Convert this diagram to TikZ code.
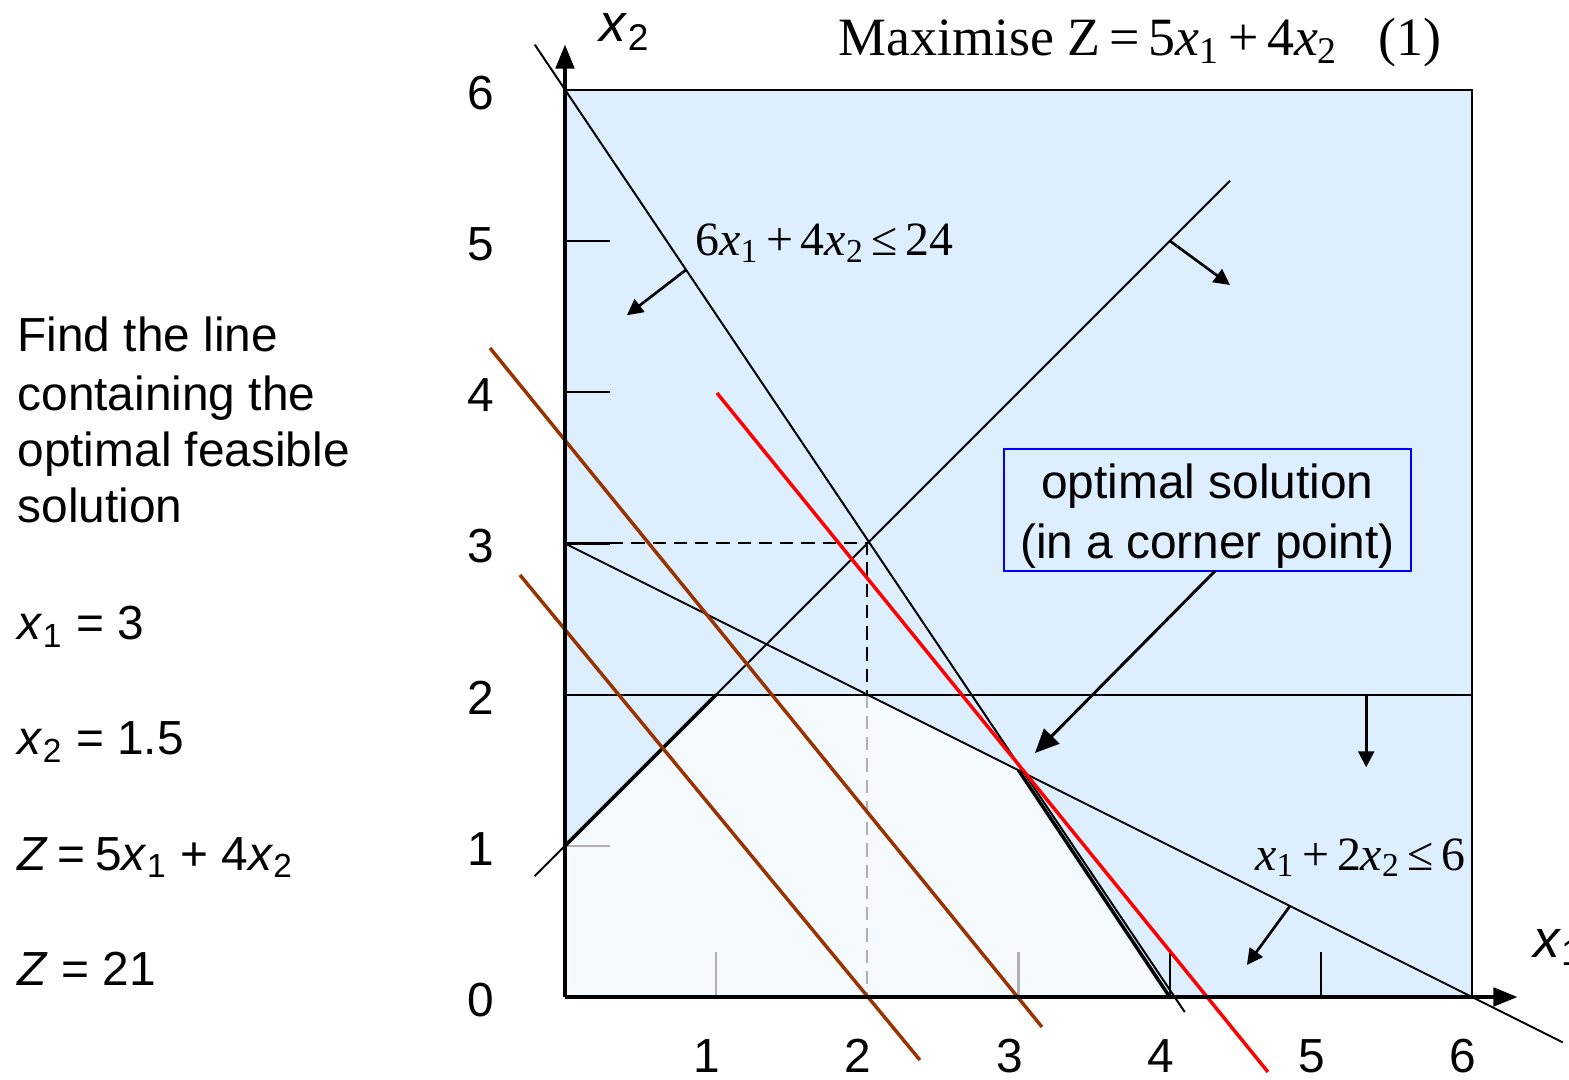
\documentclass[tikz,border=0pt]{standalone}
\usepackage{fontspec}
\setmainfont{Liberation Serif}
\setsansfont{Liberation Sans}
\usetikzlibrary{arrows.meta}
\definecolor{bgblue}{HTML}{DDEFFF}
\definecolor{feas}{HTML}{F5FAFF}
\definecolor{brownl}{HTML}{993300}
\definecolor{tickgray}{HTML}{B0B0B0}
\newcommand\vx[1]{\textit{x}\textsubscript{#1}}
\newcommand\msp{\hspace{0.16em}}
\newcommand\ssp{\hspace{0.2em}}
\begin{document}
\begin{tikzpicture}[x=2cm,y=2cm,
  thinl/.style={line width=0.75pt},
  axisl/.style={line width=1.2pt},
  isol/.style={line width=1.3pt},
  headarrow/.style={line width=1pt,-{Triangle[length=6pt,width=6pt]}},
  bigarrow/.style={line width=1.1pt,-{Triangle[length=9pt,width=8pt]}},
  sanstext/.style={font=\fontsize{18}{21.5}\selectfont\sffamily,inner sep=0pt},
  serifmath/.style={font=\fontsize{18}{21.5}\selectfont\rmfamily,inner sep=0pt},
  ticklab/.style={font=\fontsize{18}{21.5}\selectfont\sffamily,inner sep=0pt},
  tickk/.style={line width=0.8pt},
  tickg/.style={line width=0.8pt,tickgray}]
\useasboundingbox (-3.7375,-0.549) rectangle (6.6416,6.5952);
% background region
\fill[bgblue] (0,0) rectangle (6,6);
\fill[feas] (0,0) -- (0,1) -- (1,2) -- (2,2) -- (3,1.5) -- (4,0) -- cycle;
\draw[thinl] (0,6) -- (6,6) -- (6,0);
% ticks
\draw[tickk] (0,5) -- (0.298,5);
\draw[tickk] (0,4) -- (0.298,4);
\draw[tickk] (0,3) -- (0.298,3);
\draw[tickg] (0,1) -- (0.298,1);
\draw[tickg] (1,0) -- (1,0.298);
\draw[tickg] (3,0) -- (3,0.298);
\draw[tickk] (4,0) -- (4,0.298);
\draw[tickk] (5,0) -- (5,0.298);
% dashed guides
\draw[thinl,dash pattern=on 5pt off 3pt] (0.298,3) -- (2,3) -- (2,2);
\draw[thinl,dash pattern=on 5pt off 3pt,tickgray] (2,2) -- (2,0);
% constraint lines
\coordinate (a1) at (-0.2,6.3);
\coordinate (a2) at (4.1,-0.1);
\draw[thinl] (a1) -- (a2);
\coordinate (b1) at (-0.2,0.8);
\coordinate (b2) at (4.4,5.4);
\draw[thinl] (b1) -- (b2);
\coordinate (c1) at (0,3);
\coordinate (c2) at (6.6,-0.3);
\draw[thinl] (c1) -- (c2);
\coordinate (d1) at (0,2);
\coordinate (d2) at (6,2);
\draw[thinl] (d1) -- (d2);
% thick feasible edges
\draw[line width=1.3pt] (0,1) -- (1,2);
\draw[line width=1.3pt] (3,1.5) -- (4,0);
% iso-profit lines
\draw[isol,brownl] (-0.496,4.293) -- (3.155,-0.198);
\draw[isol,brownl] (-0.298,2.792) -- (2.348,-0.417);
\draw[isol,red] (1.005,3.996) -- (4.650,-0.496);
% axes
\coordinate (O) at (0,0);
\coordinate (ytop) at (0,6.30);
\coordinate (xend) at (6.30,0);
\draw[axisl,-{Triangle[length=9pt,width=7pt]}] (O) -- (ytop);
\draw[axisl,-{Triangle[length=9pt,width=7pt]}] (O) -- (xend);
% direction arrows
\coordinate (ar1s) at (0.80,4.81); \coordinate (ar1e) at (0.41,4.51);
\draw[headarrow] (ar1s) -- (ar1e);
\coordinate (ar2s) at (4.002,5.001); \coordinate (ar2e) at (4.399,4.710);
\draw[headarrow] (ar2s) -- (ar2e);
\coordinate (ar3s) at (5.30,2.0); \coordinate (ar3e) at (5.30,1.52);
\draw[headarrow] (ar3s) -- (ar3e);
\coordinate (ar4s) at (4.796,0.602); \coordinate (ar4e) at (4.511,0.212);
\draw[headarrow] (ar4s) -- (ar4e);
% tick labels
\foreach \i in {0,...,6} {
  \node[ticklab] (yl\i) at (-0.556,\i-0.02) {\i};
}
\foreach \i in {1,...,6} {
  \node[ticklab] (xl\i) at (\i-0.06,-0.39) {\i};
}
% axis labels
\node[font=\fontsize{20}{24}\selectfont\sffamily,inner sep=0pt] (x2lab) at (0.395,6.384) {\vx{2}};
\node[font=\fontsize{20}{24}\selectfont\sffamily,inner sep=0pt,anchor=west] (x1lab) at (6.40,0.33) {\vx{1}};
% title
\node[font=\fontsize{20.3}{24}\selectfont\rmfamily,inner sep=0pt,anchor=base west] (title) at (1.806,6.231)
  {Maximise Z\msp=\msp5\vx{1}\msp+\msp4\vx{2}\hspace{0.75em}(1)};
% constraint labels
\node[serifmath,anchor=base west] (lab1) at (0.860,4.902) {6\vx{1}\msp+\msp4\vx{2}\msp≤\msp24};
\node[serifmath,anchor=base west] (lab3) at (4.564,0.840) {\vx{1}\msp+\msp2\vx{2}\msp≤\msp6};
% optimal solution box
\node[draw=blue,line width=0.9pt,fill=bgblue,minimum width=5.384cm,minimum height=1.614cm,
      font=\fontsize{18}{21.5}\selectfont\sffamily,align=center,inner sep=0pt] (box) at (4.25,3.2215)
  {\rule{0pt}{17.5pt}optimal solution\\[1pt](in a corner point)};
\coordinate (corner) at (3.109,1.614);
\draw[bigarrow] (4.30,2.818) -- (corner);
% left text
\node[sanstext,anchor=base west] (p1) at (-3.625,4.267) {Find the line};
\node[sanstext,anchor=base west] (p2) at (-3.625,3.883) {containing the};
\node[sanstext,anchor=base west] (p3) at (-3.625,3.506) {optimal feasible};
\node[sanstext,anchor=base west] (p4) at (-3.625,3.136) {solution};
\node[sanstext,anchor=base west] (s1) at (-3.625,2.362) {\vx{1} = 3};
\node[sanstext,anchor=base west] (s2) at (-3.625,1.601) {\vx{2} = 1.5};
\node[sanstext,anchor=base west] (s3) at (-3.625,0.840) {\textit{Z}\ssp=\ssp5\vx{1} + 4\vx{2}};
\node[sanstext,anchor=base west] (s4) at (-3.625,0.079) {\textit{Z} = 21};
\end{tikzpicture}
\end{document}
